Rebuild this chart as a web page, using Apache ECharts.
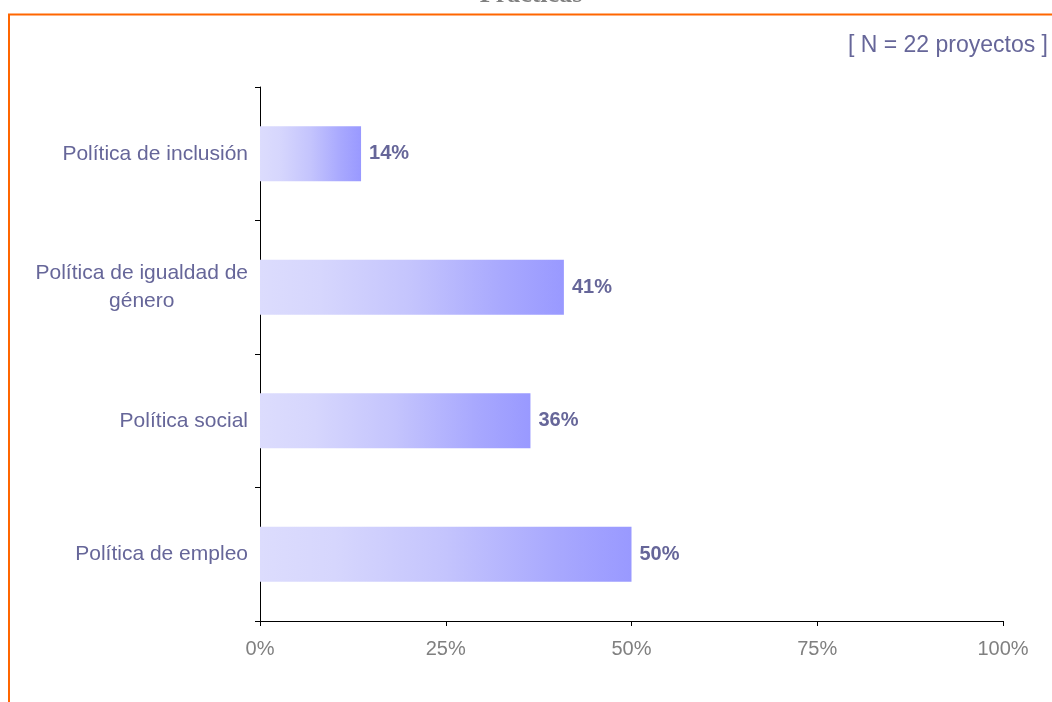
<!DOCTYPE html>
<html>
<head>
<meta charset="utf-8">
<script src="https://cdn.jsdelivr.net/npm/echarts@6/dist/echarts.min.js"></script>
<style>
html,body{margin:0;padding:0;background:#fff;}
#chart{width:1052px;height:702px;}
</style>
</head>
<body>
<div id="chart"></div>
<script>
// Categories, top to bottom
const categories = ['Política de inclusión', 'Política de igualdad de\ngénero', 'Política social', 'Política de empleo'];
// Percent values
const values = [13.6, 40.9, 36.4, 50.0];
const labels = ['14%', '41%', '36%', '50%'];
const xTicks = [0, 25, 50, 75, 100];
const titleText = 'Prácticas';
const noteText = '[ N = 22 proyectos ]';

const chart = echarts.init(document.getElementById('chart'), null, {renderer: 'canvas'});
const FONT = '"Liberation Sans", Arial, sans-serif';

chart.setOption({
  animation: false,
  backgroundColor: '#ffffff',
  graphic: [
    {type: 'rect', shape: {x: 9, y: 14.5, width: 1100, height: 800},
     style: {fill: 'none', stroke: '#ff6600', lineWidth: 2}, z: 0},
    {type: 'text', x: 531, y: -5,
     style: {text: titleText, font: 'bold 26px "Liberation Serif", "Times New Roman", serif', fill: '#808080',
             align: 'center', verticalAlign: 'middle'}},
    {type: 'text', x: 1048, y: 46,
     style: {text: noteText, font: '23px ' + FONT, fill: '#666699', align: 'right', verticalAlign: 'middle'}}
  ],
  grid: {left: 260, right: 49, top: 87, bottom: 81, containLabel: false},
  xAxis: {
    type: 'value', min: 0, max: 100, interval: 25,
    axisLine: {show: true, lineStyle: {color: '#000', width: 1}},
    axisTick: {show: true, length: 5, lineStyle: {color: '#000'}},
    splitLine: {show: false},
    axisLabel: {
      margin: 18, color: '#808080', fontSize: 20, fontFamily: FONT,
      formatter: v => xTicks.includes(v) ? v + '%' : ''
    }
  },
  yAxis: {
    type: 'category', data: categories, inverse: true,
    axisLine: {show: true, lineStyle: {color: '#000', width: 1}},
    axisTick: {show: true, length: 5, inside: false, lineStyle: {color: '#000'}},
    axisLabel: {
      margin: 12, color: '#666699', fontSize: 21, fontFamily: FONT, lineHeight: 28,
      formatter: v => v.split('\n').map(s => '{c|' + s + '}').join('\n'),
      rich: {c: {align: 'center', color: '#666699', fontSize: 21, fontFamily: FONT, lineHeight: 28}}
    }
  },
  series: [{
    type: 'bar',
    data: values,
    barWidth: 55,
    itemStyle: {
      color: new echarts.graphic.LinearGradient(0, 0, 1, 0, [
        {offset: 0, color: '#dcdcfd'},
        {offset: 0.2, color: '#d6d6fd'},
        {offset: 0.5, color: '#c4c4fd'},
        {offset: 0.8, color: '#a8a8fe'},
        {offset: 1, color: '#9999ff'}
      ])
    },
    label: {
      show: true, position: 'right', distance: 8,
      color: '#666699', fontWeight: 'bold', fontSize: 20, fontFamily: FONT,
      formatter: p => labels[p.dataIndex]
    }
  }]
});
</script>
</body>
</html>
